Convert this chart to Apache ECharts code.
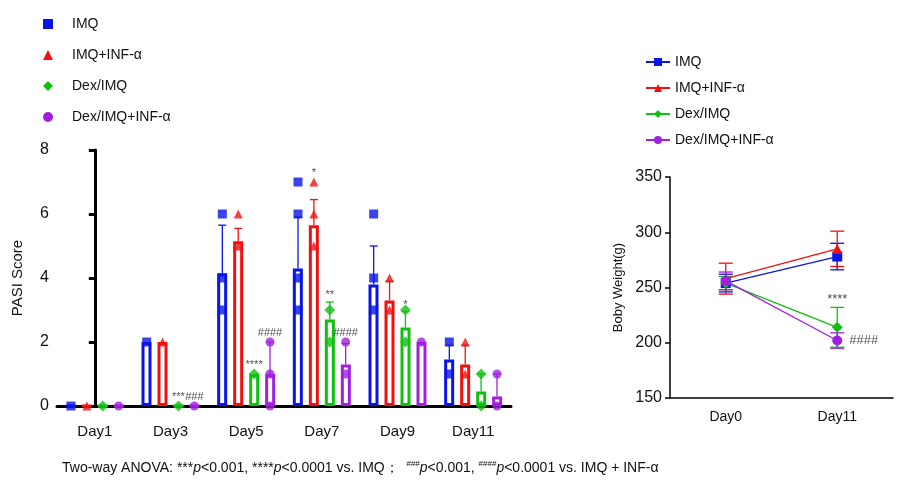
<!DOCTYPE html>
<html>
<head>
<meta charset="utf-8">
<script src="https://cdn.jsdelivr.net/npm/echarts@6/dist/echarts.min.js"></script>
<style>html,body{margin:0;padding:0;background:#fff}#main{width:900px;height:485px}</style>
</head>
<body>
<div id="main"></div>
<script>
var days = ['Day1', 'Day3', 'Day5', 'Day7', 'Day9', 'Day11'];
var groups = ['IMQ', 'IMQ+INF-α', 'Dex/IMQ', 'Dex/IMQ+INF-α'];
var colors = ['#0a14e6', '#f01010', '#10c010', '#a020e0'];
var symbols = ['rect', 'triangle', 'diamond', 'circle'];

// PASI means and upper SD ends
var pasiMean = [
	[0, 2, 4.15, 4.3, 3.8, 1.45],
	[0, 2, 5.15, 5.65, 3.3, 1.3],
	[0, 0, 1, 2.7, 2.45, 0.45],
	[0, 0, 1, 1.3, 2, 0.3]
];
var pasiUpper = [
	[0, 2, 5.65, 5.9, 5.0, 1.9],
	[0, 2, 5.55, 6.45, 3.9, 1.9],
	[0, 0, 1, 3.25, 2.95, 1.0],
	[0, 0, 2, 1.95, 2, 1.0]
];
// individual points [dayIndex, value]
var pasiPoints = [
	[[0, 0], [1, 2], [2, 6], [2, 4], [2, 3], [3, 7], [3, 6], [3, 4], [3, 3], [4, 6], [4, 4], [4, 3], [5, 2], [5, 1]],
	[[0, 0], [1, 2], [2, 6], [2, 5], [3, 7], [3, 6], [3, 5], [4, 4], [4, 3], [5, 2], [5, 1]],
	[[0, 0], [1, 0], [2, 1], [3, 3], [3, 2], [4, 3], [4, 2], [5, 1], [5, 0]],
	[[0, 0], [1, 0], [2, 2], [2, 1], [2, 0], [3, 2], [3, 1], [4, 2], [5, 1], [5, 0]]
];
// significance marks [dayIndex, groupIndex, y, text]
var pasiMarks = [
	[1, 2, 0.1, '***'], [1, 3, 0.1, '###'],
	[2, 2, 1.1, '****'], [2, 3, 2.1, '####'],
	[3, 1, 7.1, '*'], [3, 2, 3.3, '**'], [3, 3, 2.1, '####'],
	[4, 2, 3.0, '*']
];

var weightDays = ['Day0', 'Day11'];
var weightMean = [[254, 278], [258, 285], [254, 214], [256, 202]];
var weightErr = [[8, 12], [14, 16], [6, 18], [8, 7]];

var offsets = [-0.315, -0.105, 0.105, 0.315];

var chart = echarts.init(document.getElementById('main'));
var series = [];

groups.forEach(function (g, k) {
	series.push({
		name: g, type: 'bar', xAxisIndex: 0, yAxisIndex: 0,
		data: pasiMean[k], barWidth: 10, barGap: '60%',
		itemStyle: {color: '#fff', borderColor: colors[k], borderWidth: 3},
		silent: true
	});
});
groups.forEach(function (g, k) {
	// error bars
	series.push({
		type: 'custom', xAxisIndex: 1, yAxisIndex: 0, silent: true,
		data: pasiMean[k].map(function (v, i) { return [i + offsets[k], v, pasiUpper[k][i]]; }),
		renderItem: function (params, api) {
			var a = api.coord([api.value(0), api.value(1)]);
			var b = api.coord([api.value(0), api.value(2)]);
			if (api.value(2) - api.value(1) < 0.05) return;
			return {type: 'group', children: [
				{type: 'line', shape: {x1: a[0], y1: a[1], x2: b[0], y2: b[1]}, style: {stroke: colors[k], lineWidth: 1.3}},
				{type: 'line', shape: {x1: b[0] - 4, y1: b[1], x2: b[0] + 4, y2: b[1]}, style: {stroke: colors[k], lineWidth: 1.3}}
			]};
		}
	});
	series.push({
		name: g, type: 'scatter', xAxisIndex: 1, yAxisIndex: 0, silent: true,
		symbol: symbols[k], symbolSize: k === 2 ? 11 : 9,
		itemStyle: {color: colors[k]},
		data: pasiPoints[k].map(function (p) { return [p[0] + offsets[k], p[1]]; })
	});
});
series.push({
	type: 'scatter', xAxisIndex: 1, yAxisIndex: 0, silent: true, symbolSize: 0,
	data: pasiMarks.map(function (m) { return [m[0] + offsets[m[1]], m[2], m[3]]; }),
	label: {show: true, position: 'top', distance: 0, formatter: function (p) { return p.value[2]; }, fontSize: 11, color: '#222'}
});

groups.forEach(function (g, k) {
	series.push({
		name: g + ' ', type: 'line', xAxisIndex: 2, yAxisIndex: 1,
		data: weightMean[k], symbol: symbols[k], symbolSize: k === 2 ? 11 : 10,
		lineStyle: {color: colors[k], width: 1.3}, itemStyle: {color: colors[k]}, silent: true
	});
	series.push({
		type: 'custom', xAxisIndex: 2, yAxisIndex: 1, silent: true,
		data: weightMean[k].map(function (v, i) { return [i, v - weightErr[k][i], v + weightErr[k][i]]; }),
		renderItem: function (params, api) {
			var a = api.coord([api.value(0), api.value(1)]);
			var b = api.coord([api.value(0), api.value(2)]);
			return {type: 'group', children: [
				{type: 'line', shape: {x1: a[0], y1: a[1], x2: b[0], y2: b[1]}, style: {stroke: colors[k], lineWidth: 1.3}},
				{type: 'line', shape: {x1: a[0] - 7, y1: a[1], x2: a[0] + 7, y2: a[1]}, style: {stroke: colors[k], lineWidth: 1.3}},
				{type: 'line', shape: {x1: b[0] - 7, y1: b[1], x2: b[0] + 7, y2: b[1]}, style: {stroke: colors[k], lineWidth: 1.3}}
			]};
		}
	});
});
series.push({
	type: 'scatter', xAxisIndex: 2, yAxisIndex: 1, silent: true, symbolSize: 0,
	data: [
		{value: [1, 229, '****'], label: {position: 'top'}},
		{value: [1, 202, '####'], label: {position: 'right', distance: 12}}
	],
	label: {show: true, formatter: function (p) { return p.value[2]; }, fontSize: 13, color: '#222'}
});

var axisLine = {lineStyle: {color: '#000', width: 3}};
var axisLine2 = {lineStyle: {color: '#000', width: 1.5}};

chart.setOption({
	animation: false,
	legend: [{
		data: groups.map(function (g, k) {
			return {name: g, icon: symbols[k], itemStyle: {color: colors[k], borderWidth: 0}};
		}),
		orient: 'vertical', left: 38, top: 12, itemGap: 17, itemWidth: 10, itemHeight: 10,
		textStyle: {fontSize: 14, color: '#111', fontFamily: 'Liberation Sans', padding: [0, 0, 0, 14]}
	}, {
		data: groups.map(function (g) { return g + ' '; }),
		orient: 'vertical', left: 640, top: 50, itemGap: 12, itemWidth: 24, itemHeight: 10,
		formatter: function (n) { return n.trim(); },
		textStyle: {fontSize: 14, color: '#111', fontFamily: 'Liberation Sans'}
	}],
	grid: [
		{left: 57, top: 150, width: 454, height: 256},
		{left: 670, top: 177, width: 223, height: 221}
	],
	xAxis: [
		{type: 'category', gridIndex: 0, data: days, axisLine: axisLine,
			axisTick: {length: 6, lineStyle: {width: 3, color: '#000'}},
			axisLabel: {fontSize: 15, color: '#111', fontFamily: 'Liberation Sans', margin: 18}},
		{type: 'value', gridIndex: 0, min: -0.5, max: 5.5, show: false},
		{type: 'category', gridIndex: 1, data: weightDays, axisLine: axisLine2,
			axisTick: {alignWithLabel: true, length: 5, lineStyle: {width: 1.5, color: '#000'}},
			axisLabel: {fontSize: 14, color: '#111', fontFamily: 'Liberation Sans', margin: 12}}
	],
	yAxis: [
		{type: 'value', gridIndex: 0, min: 0, max: 8, interval: 2, name: 'PASI Score',
			nameLocation: 'middle', nameGap: 32, nameTextStyle: {fontSize: 15, color: '#111', fontFamily: 'Liberation Sans'},
			axisLine: {show: true, lineStyle: {color: '#000', width: 3}},
			axisTick: {show: true, length: 6, lineStyle: {width: 3, color: '#000'}},
			splitLine: {show: false},
			axisLabel: {fontSize: 16, color: '#111', fontFamily: 'Liberation Sans'}},
		{type: 'value', gridIndex: 1, min: 150, max: 350, interval: 50, name: 'Boby Weight(g)',
			nameLocation: 'middle', nameGap: 45, nameTextStyle: {fontSize: 13, color: '#111', fontFamily: 'Liberation Sans'},
			axisLine: {show: true, lineStyle: {color: '#000', width: 1.5}},
			axisTick: {show: true, length: 5, lineStyle: {width: 1.5, color: '#000'}},
			splitLine: {show: false},
			axisLabel: {fontSize: 16, color: '#111', fontFamily: 'Liberation Sans'}}
	],
	graphic: [{
		type: 'text', left: 62, top: 460,
		style: {
			text: 'Two-way ANOVA: ***{i|p}<0.001, ****{i|p}<0.0001 vs. IMQ；  {s|###}{i|p}<0.001, {s|####}{i|p}<0.0001 vs. IMQ + INF-α',
			fontSize: 14, fill: '#111', fontFamily: 'Liberation Sans',
			rich: {i: {fontStyle: 'italic', fontSize: 14, fontFamily: 'Liberation Sans'},
				s: {fontSize: 8, verticalAlign: 'top', padding: [0, 0, 8, 0], fontFamily: 'Liberation Sans'}}
		}
	}],
	series: series
});
</script>
</body>
</html>
